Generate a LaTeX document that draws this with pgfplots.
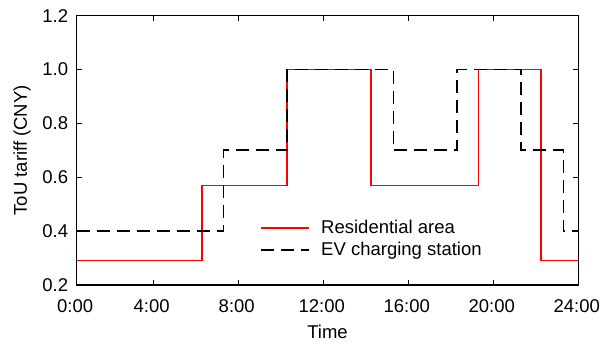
\documentclass[border=0pt]{standalone}
\usepackage{pgfplots}
\pgfplotsset{compat=1.18}
\usepackage{fontspec}
\setmainfont{Liberation Sans}
\newcommand{\ff}{\fontsize{18.5bp}{22bp}\selectfont}
\begin{document}
\begin{tikzpicture}[font=\ff]
\begin{axis}[
  at={(0,0)}, anchor=south west,
  scale only axis,
  width=501.6bp, height=269.3bp,
  xmin=0.4, xmax=24, ymin=0.2, ymax=1.2,
  xtick={0.4,4,8,12,16,20,24},
  xticklabels={0:00,4:00,8:00,12:00,16:00,20:00,24:00},
  ytick={0.2,0.4,0.6,0.8,1.0,1.2},
  yticklabel style={/pgf/number format/fixed,/pgf/number format/fixed zerofill,/pgf/number format/precision=1, font=\ff, xshift=-5bp},
  xticklabel style={font=\ff, yshift=-11bp, xshift=-1.5bp},
  /pgf/number format/assume math mode=true,
  tick align=inside,
  major tick length=5bp,
  tick style={black, line width=1.2bp},
  axis line style={black, line width=1.3bp},
  xlabel={Time}, ylabel={ToU tariff (CNY)},
  label style={font=\ff},
  xlabel style={yshift=-6bp},
  ylabel style={yshift=5bp},
  legend style={draw=none, fill=none, font=\ff, at={(axis cs:8.9,0.455)}, anchor=north west,
    row sep=3bp, /tikz/every odd column/.append style={column sep=9bp}},
  legend cell align=left,
  legend image code/.code={\draw[#1] (0bp,0bp) -- (48bp,0bp);},
]
\addplot[const plot, color=red, line width=1.4bp] coordinates {
  (0.4,0.29) (6.3,0.57) (10.3,1.0) (14.25,0.57) (19.3,1.0) (22.25,0.29) (24,0.29)
};
\addlegendentry{Residential area}
\addplot[const plot, color=black, line width=1.7bp, dash pattern=on 13bp off 7bp] coordinates {
  (0.4,0.4) (7.3,0.7) (10.3,1.0) (15.3,0.7) (18.3,1.0) (21.3,0.7) (23.3,0.4) (24,0.4)
};
\addlegendentry{EV charging station}
\end{axis}
\pgfresetboundingbox
\path (-76.7bp,-61bp) rectangle (526.3bp,285bp);
\end{tikzpicture}
\end{document}
